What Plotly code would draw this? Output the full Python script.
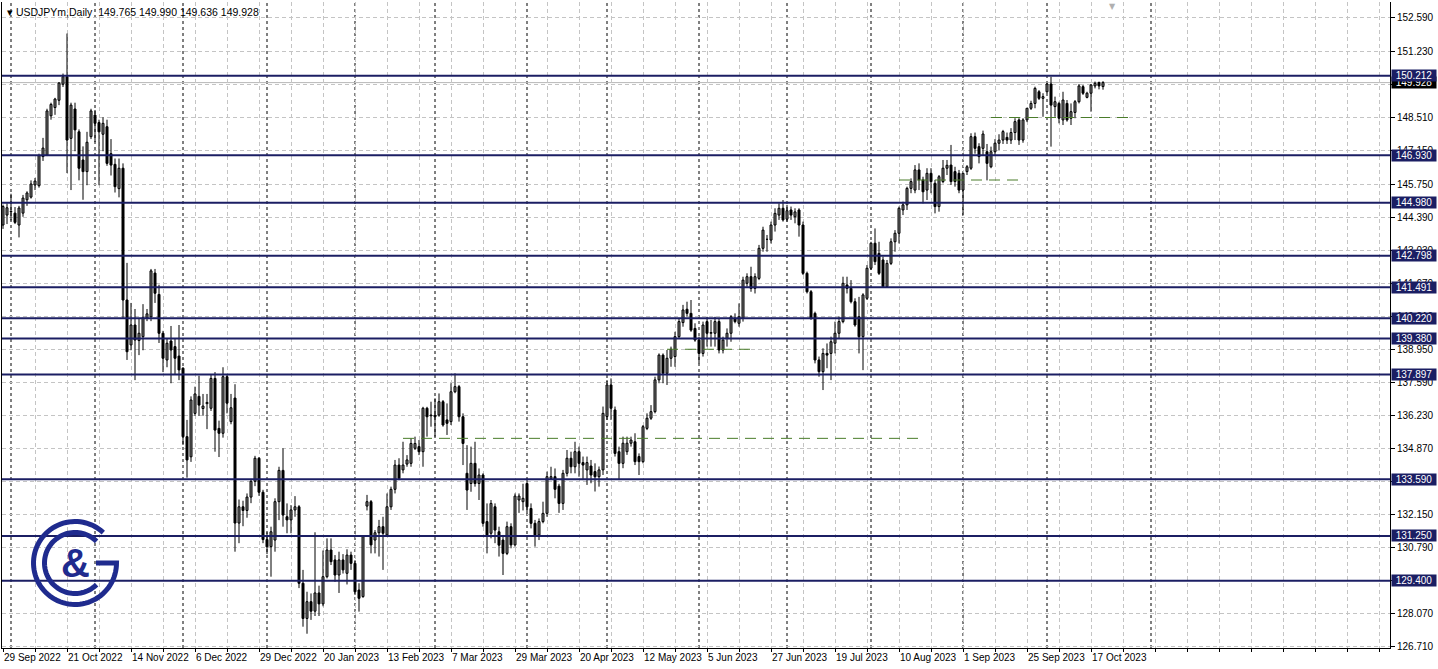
import numpy as np
import plotly.graph_objects as go

# ---------------- data ----------------
opens = [
    144.06, 144.47, 144.62, 144.55, 144.06, 144.55, 145.10, 145.21, 145.71, 145.68,
    146.88, 146.94, 148.56, 148.90, 149.20, 149.86, 150.17, 147.63, 148.84, 147.90,
    146.74, 146.26, 147.70, 148.59, 148.28, 147.80, 148.11, 147.00, 146.56, 145.56,
    146.40, 140.97, 139.12, 139.94, 139.30, 139.46, 140.23, 140.28, 142.08, 141.20,
    139.60, 138.50, 139.28, 139.05, 138.66, 138.16, 135.34, 134.51, 136.30, 137.00,
    136.50, 136.70, 136.51, 137.74, 135.68, 135.48, 137.81, 135.96, 136.93, 131.78,
    132.45, 132.30, 132.85, 133.50, 134.45, 133.05, 131.10, 130.81, 131.08, 132.66,
    133.95, 132.04, 131.91, 132.32, 132.45, 129.30, 127.85, 128.54, 128.15, 128.90,
    128.45, 129.57, 130.67, 130.26, 129.64, 130.26, 129.71, 130.46, 130.12, 129.02,
    128.75, 132.48, 132.66, 131.08, 131.38, 131.63, 131.29, 132.45, 133.17, 134.17,
    133.97, 134.21, 134.24, 134.86, 134.93, 134.72, 136.51, 136.20, 136.23, 136.23,
    136.78, 136.03, 135.96, 137.19, 137.40, 136.16, 133.83, 133.41, 134.24, 133.41,
    133.76, 131.84, 131.36, 132.45, 131.42, 131.08, 130.53, 131.63, 130.88, 132.73,
    132.66, 133.41, 132.38, 131.77, 131.29, 131.84, 132.18, 133.62, 133.69, 133.30,
    132.59, 133.83, 134.45, 134.10, 134.72, 134.27, 133.97, 134.13, 133.90, 133.69,
    133.97, 136.17, 137.47, 136.44, 134.72, 134.24, 134.72, 135.07, 135.13, 134.52,
    134.31, 135.68, 136.10, 136.37, 137.68, 138.70, 137.95, 138.57, 138.64, 139.46,
    140.04, 140.59, 140.42, 139.80, 139.32, 138.77, 140.08, 139.60, 139.60, 140.08,
    138.91, 139.39, 139.60, 140.22, 140.01, 140.22, 141.66, 141.93, 141.45, 141.86,
    143.10, 143.47, 143.44, 144.06, 144.47, 144.75, 144.30, 144.68, 144.40, 144.68,
    144.06, 142.07, 141.31, 140.42, 138.50, 138.02, 138.77, 138.77, 139.19, 139.60,
    140.08, 141.59, 141.45, 140.90, 140.28, 139.46, 141.04, 142.28, 143.31, 142.89,
    142.62, 141.52, 142.48, 143.37, 143.72, 144.68, 144.89, 145.57, 145.50, 146.33,
    145.92, 145.50, 146.19, 145.78, 144.82, 145.85, 146.40, 146.53, 146.26, 146.19,
    145.50, 146.26, 146.40, 147.70, 147.29, 147.22, 147.08, 146.46, 147.08, 147.43,
    147.56, 147.67, 147.56, 147.87, 148.39, 147.56, 148.39, 148.87, 149.07, 149.55,
    149.28, 149.55, 149.87, 148.94, 149.07, 148.39, 149.07, 148.46, 148.70, 149.14,
    149.76, 149.32, 149.49, 149.79, 149.93, 149.765,
]
highs = [
    144.90, 144.95, 145.35, 144.80, 144.85, 145.30, 145.45, 145.90, 146.00, 147.00,
    147.65, 148.85, 149.10, 149.30, 149.95, 150.30, 151.95, 149.10, 149.10, 148.00,
    147.30, 147.90, 148.85, 148.80, 148.40, 148.50, 148.40, 147.60, 146.80, 146.80,
    146.60, 142.50, 140.85, 140.60, 140.20, 140.80, 140.60, 142.25, 142.25, 141.60,
    139.70, 139.40, 139.90, 139.40, 139.94, 138.20, 136.03, 137.00, 137.40, 137.85,
    137.10, 137.10, 137.90, 138.00, 136.00, 138.20, 137.90, 137.10, 137.50, 132.75,
    132.70, 133.00, 133.60, 134.55, 134.50, 133.15, 131.40, 131.63, 132.80, 134.10,
    134.86, 132.59, 132.52, 132.89, 132.52, 129.85, 128.95, 128.88, 131.40, 129.20,
    130.65, 131.15, 131.15, 130.46, 130.60, 130.50, 130.70, 130.60, 130.25, 129.30,
    131.28, 132.94, 132.73, 131.49, 131.91, 132.04, 133.00, 133.28, 134.38, 134.45,
    135.13, 134.58, 135.27, 135.34, 135.20, 136.57, 136.57, 136.78, 136.92, 137.12,
    136.85, 136.71, 137.54, 137.95, 137.47, 136.30, 134.99, 134.93, 135.13, 134.03,
    133.83, 132.59, 132.73, 132.59, 131.63, 131.29, 131.84, 131.77, 133.00, 133.00,
    133.40, 133.62, 132.59, 131.91, 131.97, 132.66, 133.90, 134.10, 134.03, 133.40,
    133.97, 134.79, 134.72, 135.13, 134.93, 134.52, 134.52, 134.38, 134.24, 134.11,
    136.58, 137.67, 137.74, 136.58, 134.93, 135.34, 135.34, 135.34, 135.48, 134.65,
    135.82, 136.30, 136.64, 137.81, 138.77, 138.77, 138.91, 139.05, 139.66, 140.22,
    140.77, 140.90, 140.97, 140.01, 139.46, 140.08, 140.28, 140.15, 140.28, 140.22,
    139.46, 139.80, 140.35, 140.42, 140.83, 141.93, 142.07, 142.34, 142.07, 143.24,
    143.99, 143.65, 144.20, 144.75, 144.95, 145.09, 144.89, 144.82, 144.75, 144.75,
    144.20, 142.14, 141.38, 140.49, 138.64, 138.98, 139.18, 139.46, 140.08, 140.29,
    141.93, 141.93, 141.79, 141.04, 141.10, 141.25, 142.41, 143.37, 143.92, 143.37,
    142.76, 142.62, 143.51, 143.85, 144.82, 145.02, 145.64, 145.98, 146.53, 146.60,
    146.05, 146.40, 146.40, 145.92, 146.12, 146.74, 146.74, 147.36, 146.46, 146.33,
    146.19, 146.53, 147.84, 147.87, 147.43, 147.95, 147.40, 147.29, 147.60, 147.80,
    147.98, 147.87, 148.05, 148.46, 148.46, 148.46, 148.87, 149.18, 149.76, 149.62,
    149.49, 149.93, 150.17, 149.35, 149.14, 149.55, 149.21, 149.07, 149.21, 149.87,
    149.83, 149.55, 149.87, 149.97, 149.97, 149.990,
]
lows = [
    143.90, 144.10, 144.25, 144.10, 143.55, 144.40, 144.85, 145.15, 145.50, 145.60,
    146.70, 146.90, 148.40, 148.60, 149.00, 149.75, 146.20, 145.50, 147.10, 145.90,
    145.10, 145.70, 147.60, 147.48, 145.70, 147.10, 146.50, 146.10, 145.40, 145.20,
    140.22, 138.50, 138.90, 137.67, 138.70, 138.90, 140.10, 140.10, 140.85, 139.20,
    138.00, 138.20, 137.54, 137.90, 137.67, 135.00, 133.65, 134.30, 136.20, 136.20,
    136.20, 135.65, 136.40, 134.72, 134.50, 135.30, 136.30, 135.85, 130.60, 130.95,
    131.65, 132.00, 132.60, 133.30, 132.90, 130.95, 130.50, 129.57, 130.60, 131.90,
    131.63, 131.36, 131.36, 132.04, 129.10, 127.51, 127.22, 127.79, 127.95, 127.95,
    128.35, 129.50, 130.05, 129.36, 128.90, 129.70, 129.25, 129.85, 128.82, 128.13,
    128.70, 132.30, 130.53, 130.53, 130.40, 129.85, 131.22, 132.32, 133.00, 133.55,
    133.83, 134.10, 134.10, 134.79, 134.58, 134.10, 135.34, 135.75, 135.34, 136.16,
    135.75, 135.41, 135.82, 137.13, 135.96, 134.17, 132.32, 133.07, 133.28, 132.73,
    131.63, 130.53, 131.15, 130.95, 130.40, 129.64, 130.46, 130.74, 130.81, 132.20,
    132.30, 132.18, 131.56, 130.81, 131.08, 131.77, 132.04, 133.55, 132.80, 132.20,
    132.32, 133.70, 133.83, 133.83, 133.69, 133.55, 133.35, 133.42, 133.08, 133.28,
    133.76, 136.03, 136.03, 134.52, 133.55, 134.04, 134.59, 134.93, 134.17, 133.76,
    134.24, 135.61, 136.03, 136.30, 137.54, 137.54, 137.47, 138.22, 138.22, 139.39,
    139.87, 140.28, 139.66, 139.25, 138.36, 138.64, 139.05, 139.05, 139.05, 138.77,
    138.77, 139.05, 139.25, 140.01, 139.87, 140.08, 141.52, 141.31, 141.24, 141.79,
    142.96, 142.96, 143.30, 143.79, 144.27, 144.20, 144.20, 144.27, 144.13, 143.58,
    142.00, 141.24, 140.15, 138.36, 137.81, 137.26, 138.16, 137.67, 138.77, 139.39,
    140.01, 141.24, 140.83, 139.87, 138.77, 138.08, 140.97, 142.21, 142.41, 142.00,
    141.50, 141.50, 142.41, 142.96, 143.30, 144.47, 144.68, 145.37, 145.37, 145.50,
    144.95, 145.09, 145.37, 144.54, 144.61, 145.78, 146.12, 145.71, 145.64, 145.37,
    144.47, 146.12, 146.33, 147.00, 146.60, 146.95, 145.90, 146.40, 146.90, 147.15,
    147.40, 147.40, 147.40, 147.56, 147.36, 147.45, 148.30, 148.80, 148.87, 149.21,
    148.52, 149.49, 147.29, 148.52, 148.25, 148.18, 148.32, 148.18, 148.46, 149.07,
    149.42, 149.28, 148.73, 149.69, 149.65, 149.636,
]
closes = [
    144.82, 144.77, 144.60, 144.17, 144.76, 145.17, 145.38, 145.75, 145.87, 146.92,
    147.23, 148.76, 149.03, 149.25, 149.91, 150.17, 147.56, 149.00, 147.98, 146.40,
    146.26, 147.47, 148.76, 148.25, 147.90, 148.25, 146.60, 146.53, 145.64, 146.40,
    140.97, 138.84, 139.94, 139.32, 139.60, 140.24, 140.40, 142.17, 141.25, 139.60,
    138.57, 139.19, 138.91, 138.57, 138.09, 135.34, 134.38, 136.85, 137.10, 136.64,
    136.60, 136.75, 137.74, 135.61, 135.48, 137.81, 136.72, 136.53, 131.78, 132.45,
    132.30, 132.85, 133.50, 134.45, 133.05, 131.10, 130.80, 131.42, 132.66, 133.95,
    132.11, 131.91, 132.32, 132.45, 129.30, 127.85, 128.54, 128.15, 128.90, 128.45,
    129.57, 130.67, 130.19, 129.64, 130.26, 129.85, 130.46, 130.12, 128.95, 128.68,
    131.22, 132.66, 130.88, 131.38, 131.63, 131.36, 132.45, 133.17, 134.17, 133.62,
    134.17, 134.38, 135.06, 135.06, 134.72, 136.51, 136.16, 136.23, 136.16, 136.78,
    135.82, 135.89, 137.19, 137.40, 136.16, 135.06, 133.14, 134.24, 133.41, 133.76,
    131.77, 131.29, 132.59, 131.49, 130.87, 130.53, 131.63, 130.88, 132.89, 132.89,
    132.80, 132.45, 131.77, 131.29, 131.84, 132.18, 133.69, 133.69, 133.17, 132.59,
    133.83, 134.45, 134.10, 134.72, 134.24, 134.17, 134.27, 133.76, 133.69, 133.97,
    136.30, 137.47, 136.51, 134.65, 134.24, 135.07, 135.07, 135.20, 134.31, 134.31,
    135.75, 136.10, 136.37, 137.68, 138.70, 137.95, 138.57, 138.94, 139.46, 140.08,
    140.56, 140.42, 139.73, 139.32, 138.77, 139.94, 139.60, 139.63, 140.08, 138.91,
    139.32, 139.60, 140.28, 140.08, 140.28, 141.79, 141.93, 141.45, 141.93, 143.10,
    143.85, 143.47, 144.06, 144.54, 144.75, 144.27, 144.65, 144.47, 144.60, 144.06,
    142.07, 141.31, 140.22, 138.50, 138.02, 138.77, 138.70, 139.25, 139.60, 140.08,
    141.66, 141.45, 140.90, 139.94, 139.46, 141.18, 142.28, 143.31, 142.55, 142.07,
    141.52, 142.48, 143.37, 143.72, 144.75, 144.89, 145.57, 145.85, 146.33, 145.92,
    145.43, 146.19, 145.85, 144.82, 146.05, 146.40, 146.52, 145.85, 145.85, 145.50,
    146.19, 146.46, 147.70, 147.22, 146.88, 147.81, 146.60, 147.08, 147.43, 147.56,
    147.91, 147.56, 147.87, 148.32, 147.56, 148.39, 148.87, 149.07, 149.69, 149.28,
    149.35, 149.87, 149.00, 149.14, 148.46, 149.21, 148.39, 148.73, 149.14, 149.79,
    149.49, 149.49, 149.83, 149.90, 149.79, 149.928,
]

date_labels = ["29 Sep 2022", "21 Oct 2022", "14 Nov 2022", "6 Dec 2022", "29 Dec 2022",
               "20 Jan 2023", "13 Feb 2023", "7 Mar 2023", "29 Mar 2023", "20 Apr 2023",
               "12 May 2023", "5 Jun 2023", "27 Jun 2023", "19 Jul 2023", "10 Aug 2023",
               "1 Sep 2023", "25 Sep 2023", "17 Oct 2023"]
date_label_bars = [0, 16, 32, 48, 64, 80, 96, 112, 128, 144, 160, 176, 192, 208, 224, 240, 256, 272]

price_ticks = [152.59, 151.23, 149.87, 148.51, 147.15, 145.75, 144.39, 143.03, 141.67, 140.31,
               138.95, 137.59, 136.23, 134.87, 133.51, 132.15, 130.79, 129.43, 128.07, 126.71]

levels = [150.212, 146.930, 144.980, 142.798, 141.491, 140.220, 139.380, 137.897,
          133.590, 131.250, 129.400]
last_price = 149.928
title_ohlc = "149.765 149.990 149.636 149.928"

month_start_bars = [2, 23, 45, 66, 88, 108, 131, 151, 174, 196, 217, 240, 261, 287]

green_levels = [148.49, 145.915, 138.94, 135.27]
green_start = [247, 224, 166, 100]
green_end = [281.25, 255, 187, 230.5]

# ---------------- styling ----------------
NAVY = "#1b1e63"
LOGO = "#1f2b8e"
GRID = "#c4c4c4"
GREEN = "#4a7c2a"
FONT = "Liberation Sans, Arial, sans-serif"

W, H = 1438, 669
ML, MR, MT, MB = 2, 48, 2, 21
X_RANGE = [-0.25, 346.75]
Y_RANGE = [126.632, 153.249]

fig = go.Figure()

# wicks
wx, wy = [], []
for i, (h, l) in enumerate(zip(highs, lows)):
    wx += [i, i, None]
    wy += [l, h, None]
fig.add_trace(go.Scatter(x=wx, y=wy, mode="lines", line=dict(color="black", width=1),
                         hoverinfo="skip", showlegend=False))

# bodies
up_x, up_b, up_h, dn_x, dn_b, dn_h = [], [], [], [], [], []
for i, (o, c) in enumerate(zip(opens, closes)):
    b = min(o, c)
    hgt = max(abs(c - o), 0.001)
    if c >= o:
        up_x.append(i); up_b.append(b); up_h.append(hgt)
    else:
        dn_x.append(i); dn_b.append(b); dn_h.append(hgt)
fig.add_trace(go.Bar(x=up_x, y=up_h, base=up_b, width=0.5,
                     marker=dict(color="white", line=dict(color="black", width=1)),
                     hoverinfo="skip", showlegend=False))
fig.add_trace(go.Bar(x=dn_x, y=dn_h, base=dn_b, width=0.5,
                     marker=dict(color="black", line=dict(color="black", width=1)),
                     hoverinfo="skip", showlegend=False))

# green dashed lines
for lv, s, e in zip(green_levels, green_start, green_end):
    fig.add_trace(go.Scatter(x=[s, e], y=[lv, lv], mode="lines",
                             line=dict(color=GREEN, width=1, dash="11px,7px"),
                             hoverinfo="skip", showlegend=False))

shapes = []
# month separators
for m in month_start_bars:
    shapes.append(dict(type="line", xref="x", yref="paper", x0=m, x1=m, y0=0, y1=1,
                       line=dict(color="black", width=1, dash="3px,3px"), layer="between"))
# current price line
shapes.append(dict(type="line", xref="paper", yref="y", x0=0, x1=1, y0=last_price, y1=last_price,
                   line=dict(color="#b8b8b8", width=1), layer="between"))
# level lines
for lv in levels:
    shapes.append(dict(type="line", xref="paper", yref="y", x0=0, x1=1, y0=lv, y1=lv,
                       line=dict(color=NAVY, width=2), layer="above"))

# logo (C & G)
PW, PH = W - ML - MR, H - MT - MB


def to_paper(X, Y):
    return (X - ML) / PW, (MT + PH - Y) / PH


def arc_pts(cx, cy, r, a0, a1, n=80):
    pts = []
    for a in np.linspace(a0, a1, n):
        t = np.radians(a)
        pts.append(to_paper(cx + r * np.cos(t), cy - r * np.sin(t)))
    return pts


def path_of(pts):
    return "M " + " L ".join(f"{x:.5f},{y:.5f}" for x, y in pts)


cx, cy = 75, 563
outer = arc_pts(cx, cy, 41.5, 47, 360) + [to_paper(cx + 21, cy)]
inner = arc_pts(cx, cy, 30.5, 45, 315)
for pts in (outer, inner):
    shapes.append(dict(type="path", xref="paper", yref="paper", path=path_of(pts),
                       line=dict(color=LOGO, width=5), layer="above"))

annotations = []
annotations.append(dict(xref="paper", yref="paper", x=to_paper(cx, cy)[0], y=to_paper(cx, cy)[1],
                        text="<b>&amp;</b>", showarrow=False, xanchor="center", yanchor="middle",
                        font=dict(family="Liberation Sans, Arial", size=40, color=LOGO)))

# date labels
for b, t in zip(date_label_bars, date_labels):
    annotations.append(dict(xref="x", yref="paper", x=b, y=0, text=t, showarrow=False,
                            xanchor="left", yanchor="top", xshift=-1, yshift=-2,
                            font=dict(family=FONT, size=10, color="black")))

# right boxed price labels
annotations.append(dict(xref="paper", yref="y", x=1, y=last_price, text=f"{last_price:.3f}",
                        showarrow=False, xanchor="left", yanchor="middle", xshift=1,
                        bgcolor="black", width=44, height=11, borderpad=0,
                        font=dict(family=FONT, size=10, color="white")))
for lv in levels:
    annotations.append(dict(xref="paper", yref="y", x=1, y=lv, text=f"{lv:.3f}",
                            showarrow=False, xanchor="left", yanchor="middle", xshift=1,
                            bgcolor=NAVY, width=44, height=11, borderpad=0,
                            font=dict(family=FONT, size=10, color="white")))

# title
annotations.append(dict(xref="paper", yref="paper", x=0, y=1, xanchor="left", yanchor="top",
                        xshift=3, yshift=-2, showarrow=False,
                        text="\u25BE USDJPYm,Daily\u00a0\u00a0" + title_ohlc,
                        font=dict(family=FONT, size=10.5, color="black")))
# shift marker
annotations.append(dict(xref="paper", yref="paper", x=(1112 - ML) / PW, y=1, xanchor="center",
                        yanchor="top", yshift=2, showarrow=False, text="\u25BC",
                        font=dict(family="DejaVu Sans", size=8, color="#b0b0b0")))

fig.update_layout(
    width=W, height=H,
    margin=dict(l=ML, r=MR, t=MT, b=MB, pad=0),
    paper_bgcolor="white", plot_bgcolor="white",
    barmode="overlay", showlegend=False,
    shapes=shapes, annotations=annotations,
    font=dict(family=FONT, size=10, color="black"),
    xaxis=dict(range=X_RANGE, tickmode="array", tickvals=list(range(0, 347, 8)),
               ticktext=[""] * len(range(0, 347, 8)), ticks="outside", ticklen=3,
               tickcolor="black", showgrid=True, gridcolor=GRID, griddash="4px,3px",
               gridwidth=1, showline=True, linecolor="black", linewidth=1, mirror=False,
               zeroline=False, fixedrange=True),
    yaxis=dict(range=Y_RANGE, side="right", tickmode="array", tickvals=price_ticks,
               ticktext=[f"{t:.3f}" for t in price_ticks], ticks="outside", ticklen=4,
               tickcolor="black", showgrid=True, gridcolor=GRID, griddash="4px,3px",
               gridwidth=1, showline=True, linecolor="black", linewidth=1, mirror=True,
               zeroline=False, fixedrange=True, tickfont=dict(family=FONT, size=10)),
)

fig.write_html("out.html", config={"displayModeBar": False},
               post_script="document.body.style.margin='0';document.body.style.overflow='hidden';")
